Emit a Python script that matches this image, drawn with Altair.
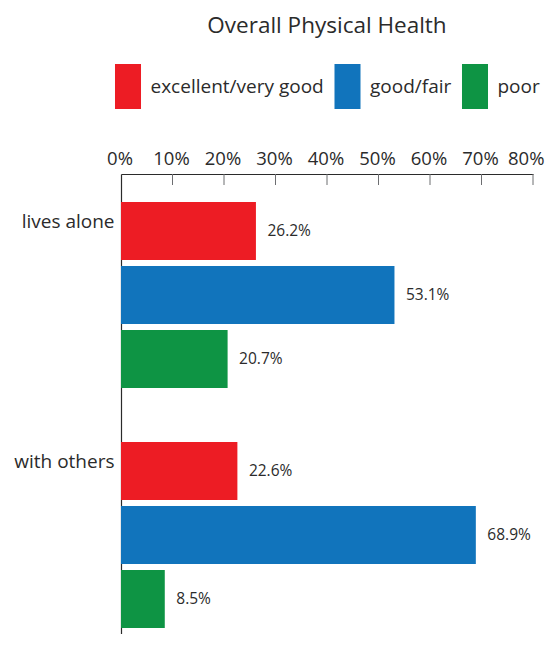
import altair as alt
import pandas as pd

groups = ["lives alone", "with others"]
categories = ["excellent/very good", "good/fair", "poor"]
lives_alone = [26.2, 53.1, 20.7]
with_others = [22.6, 68.9, 8.5]
colors = ["#ED1C24", "#1174BC", "#0E9444"]
tick_values = [0, 10, 20, 30, 40, 50, 60, 70, 80]

rows = []
for g, vals in zip(groups, [lives_alone, with_others]):
    for c, v in zip(categories, vals):
        rows.append({"group": g, "health": c, "value": v, "label": f"{v:.1f}%"})
df = pd.DataFrame(rows)
ticks_df = pd.DataFrame({"t": tick_values[1:]})

FONT = "Open Sans"
TEXT = "#2b2b2b"

x = alt.X(
    "value:Q",
    scale=alt.Scale(domain=[0, 80], nice=False, zero=True),
    axis=alt.Axis(
        orient="top", values=tick_values, labelExpr="datum.value + '%'",
        tickSize=0, labelPadding=10, labelBaseline="alphabetic",
        labelAlign={"expr": "datum.value == 80 ? 'right' : 'center'"},
        labelOffset={"expr": "datum.value == 80 ? 11 : -1.5"},
        labelFontSize=18.5, labelFont=FONT, labelColor=TEXT,
        domainColor=TEXT, domainWidth=1.2, grid=False, title=None, labelFlush=False,
    ),
)
y = alt.Y(
    "group:N", sort=groups,
    scale=alt.Scale(paddingInner=0.225, paddingOuter=0.0708, align=0.8235),
    axis=alt.Axis(
        orient="left", ticks=False, labelOffset=-73, labelPadding=7,
        labelFontSize=19, labelFont=FONT, labelColor=TEXT, labelBaseline="middle",
        domainColor=TEXT, domainWidth=1.2, title=None,
    ),
)
yoff = alt.YOffset("health:N", sort=categories,
                   scale=alt.Scale(paddingInner=0.09375, paddingOuter=0))

bars = alt.Chart(df).mark_bar().encode(
    x=x, y=y, yOffset=yoff,
    color=alt.Color(
        "health:N", sort=categories,
        scale=alt.Scale(domain=categories, range=colors),
        legend=alt.Legend(
            orient="none", legendX=-15.5, legendY=-110, direction="horizontal",
            title=None, symbolType="M-0.578,-1L0.578,-1L0.578,1L-0.578,1Z",
            symbolSize=2025, symbolStrokeWidth=0, labelFontSize=19, labelFont=FONT,
            labelColor=TEXT, labelOffset=0, columnPadding=0.5, padding=0, labelLimit=400,
        ),
    ),
)

labels = alt.Chart(df).mark_text(
    align="left", baseline="middle", dx=11.5, fontSize=15.5, font=FONT, color=TEXT
).encode(x=x, y=y, yOffset=yoff, text="label:N")

ticks = alt.Chart(ticks_df).mark_rule(color="#6d6e71", strokeWidth=1).encode(
    x=alt.X("t:Q"), y=alt.value(0), y2=alt.value(11)
)

chart = alt.layer(bars, labels, ticks).properties(
    width=412, height=460,
    padding={"left": 113, "top": 166, "right": 12, "bottom": 0},
    autosize=alt.AutoSizeParams(type="none"),
    title=alt.Title("Overall Physical Health", fontSize=22.5, font=FONT, color=TEXT,
                    fontWeight="normal", anchor="middle", offset=27),
).configure_view(stroke=None)

chart.save("out.html", embed_options={"renderer": "svg", "actions": False})
